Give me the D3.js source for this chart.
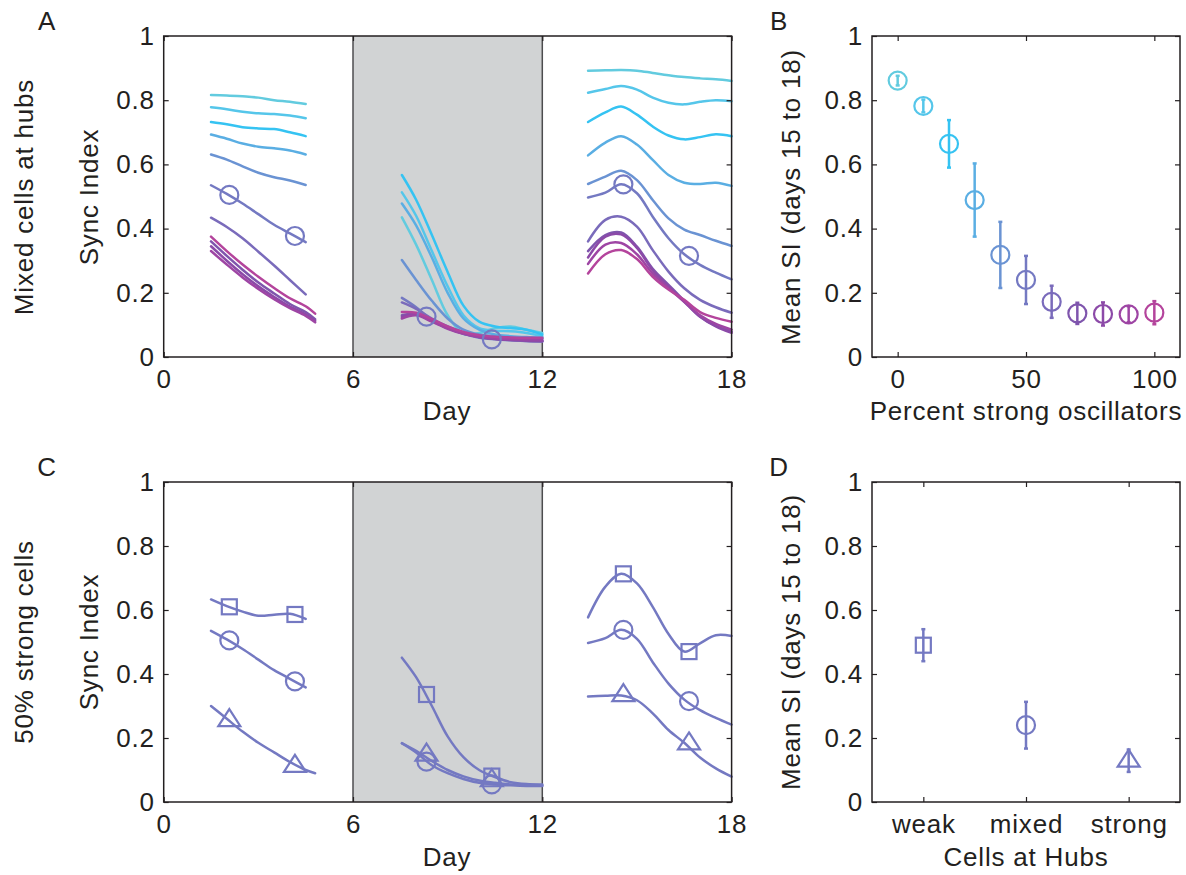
<!DOCTYPE html>
<html>
<head>
<meta charset="utf-8">
<script src="https://cdn.jsdelivr.net/npm/d3@7"></script>
<style>
  body { margin: 0; background: #fff; }
  text { font-family: "Liberation Sans", Arial, Helvetica, sans-serif; fill: #231f20; letter-spacing: 0.8px; }
</style>
</head>
<body>
<div id="fig"></div>
<script>
// ---- data ----
const pctStrong = [0, 10, 20, 30, 40, 50, 60, 70, 80, 90, 100];
const seriesColors = ["#62cbdf", "#55c6ea", "#35c3f2", "#5aaee3", "#6a93d3", "#7479c2",
                      "#7a6bbb", "#7f55ad", "#8c4aa8", "#9e45a4", "#b4449c"];

const seg1Days = [1.5, 2, 2.5, 3, 3.5, 4, 4.5, 4.8];
const seg2Days = [7.55, 8, 8.5, 9, 9.5, 10, 10.5, 11, 11.5, 12];
const seg3Days = [13.45, 14, 14.5, 15, 15.5, 16, 16.5, 17, 17.5, 18];

// sync index, one row per % strong oscillators
const syncSeg1 = [
  [0.816, 0.815, 0.812, 0.808, 0.800, 0.795, 0.788, null],
  [0.778, 0.772, 0.764, 0.759, 0.757, 0.752, 0.744, null],
  [0.732, 0.725, 0.716, 0.712, 0.710, 0.700, 0.688, null],
  [0.693, 0.680, 0.665, 0.655, 0.650, 0.643, 0.631, null],
  [0.631, 0.615, 0.594, 0.574, 0.560, 0.550, 0.536, null],
  [0.535, 0.508, 0.478, 0.445, 0.412, 0.385, 0.358, null],
  [0.434, 0.405, 0.370, 0.328, 0.285, 0.240, 0.195, null],
  [0.360, 0.315, 0.272, 0.232, 0.198, 0.165, 0.140, 0.118],
  [0.345, 0.300, 0.258, 0.220, 0.187, 0.157, 0.133, 0.113],
  [0.330, 0.288, 0.248, 0.212, 0.180, 0.152, 0.128, 0.108],
  [0.375, 0.330, 0.288, 0.250, 0.215, 0.183, 0.158, 0.135]
];
const syncSeg2 = [
  [0.435, 0.35, 0.24, 0.13, 0.072, 0.075, 0.09, 0.095, 0.085, 0.075],
  [0.513, 0.44, 0.33, 0.22, 0.13, 0.09, 0.082, 0.08, 0.075, 0.065],
  [0.567, 0.49, 0.38, 0.265, 0.16, 0.11, 0.095, 0.09, 0.085, 0.07],
  [0.478, 0.41, 0.31, 0.20, 0.12, 0.085, 0.07, 0.065, 0.062, 0.06],
  [0.302, 0.24, 0.175, 0.12, 0.085, 0.07, 0.065, 0.06, 0.06, 0.058],
  [0.184, 0.155, 0.115, 0.09, 0.072, 0.06, 0.055, 0.052, 0.05, 0.05],
  [0.17, 0.15, 0.12, 0.095, 0.075, 0.063, 0.057, 0.053, 0.05, 0.048],
  [0.13, 0.135, 0.115, 0.093, 0.075, 0.063, 0.057, 0.054, 0.052, 0.05],
  [0.125, 0.132, 0.112, 0.09, 0.073, 0.062, 0.056, 0.053, 0.051, 0.05],
  [0.12, 0.13, 0.11, 0.088, 0.072, 0.062, 0.058, 0.056, 0.055, 0.055],
  [0.14, 0.138, 0.118, 0.095, 0.078, 0.068, 0.063, 0.061, 0.06, 0.06]
];
const syncSeg3 = [
  [0.892, 0.893, 0.894, 0.892, 0.885, 0.878, 0.872, 0.868, 0.865, 0.86],
  [0.823, 0.835, 0.844, 0.833, 0.808, 0.792, 0.787, 0.795, 0.800, 0.797],
  [0.732, 0.762, 0.780, 0.755, 0.718, 0.690, 0.678, 0.685, 0.694, 0.688],
  [0.628, 0.668, 0.688, 0.662, 0.614, 0.567, 0.543, 0.539, 0.543, 0.533],
  [0.539, 0.562, 0.580, 0.551, 0.489, 0.432, 0.397, 0.380, 0.362, 0.346],
  [0.497, 0.512, 0.538, 0.510, 0.437, 0.370, 0.320, 0.287, 0.263, 0.242],
  [0.36, 0.427, 0.437, 0.406, 0.333, 0.266, 0.214, 0.178, 0.155, 0.138],
  [0.33, 0.38, 0.388, 0.344, 0.275, 0.225, 0.175, 0.126, 0.097, 0.079],
  [0.31, 0.375, 0.382, 0.34, 0.27, 0.22, 0.172, 0.125, 0.095, 0.075],
  [0.29, 0.35, 0.355, 0.32, 0.26, 0.215, 0.172, 0.13, 0.103, 0.085],
  [0.26, 0.32, 0.333, 0.305, 0.25, 0.21, 0.178, 0.14, 0.122, 0.11]
];

// panel C: 50% strong cells, placed weak / mixed / strong at hubs
const weakSeg1 = [0.633, 0.612, 0.595, 0.582, 0.585, 0.588, 0.572, null];
const weakSeg2 = [0.451, 0.39, 0.30, 0.205, 0.14, 0.10, 0.078, 0.062, 0.056, 0.055];
const weakSeg3 = [0.577, 0.673, 0.713, 0.683, 0.61, 0.525, 0.470, 0.496, 0.521, 0.519];
const strongSeg1 = [0.30, 0.26, 0.22, 0.185, 0.155, 0.125, 0.10, 0.09];
const strongSeg2 = [0.183, 0.16, 0.128, 0.10, 0.08, 0.067, 0.06, 0.055, 0.053, 0.052];
const strongSeg3 = [0.33, 0.332, 0.333, 0.318, 0.277, 0.225, 0.185, 0.139, 0.105, 0.079];

const markerDays = [2.08, 4.16, 8.33, 10.4, 14.57, 16.65];
const circleMarks = [0.505, 0.377, 0.126, 0.055, 0.538, 0.315];
const squareMarks = [0.610, 0.586, 0.336, 0.081, 0.713, 0.470];
const triangleMarks = [0.256, 0.113, 0.148, 0.068, 0.334, 0.183];

// panel B
const bMean = [0.861, 0.782, 0.664, 0.489, 0.318, 0.240, 0.172, 0.136, 0.134, 0.133, 0.138];
const bErr = [0.015, 0.02, 0.074, 0.114, 0.103, 0.075, 0.05, 0.033, 0.036, 0.025, 0.036];

// panel D
const dCats = ["weak", "mixed", "strong"];
const dShapes = ["square", "circle", "triangle"];
const dMean = [0.49, 0.240, 0.129];
const dErr = [0.05, 0.073, 0.035];

const yTicks = [0, 0.2, 0.4, 0.6, 0.8, 1];
const dayTicks = [0, 6, 12, 18];
const pctTicks = [0, 50, 100];

// ---- layout ----
const W = 1186, H = 875;
const FS = 26;
const cGroup = "#7479c2";
const svg = d3.select("#fig").append("svg").attr("width", W).attr("height", H);

const boxA = {l: 163.7, r: 731.6, t: 36, b: 357};
const boxB = {l: 872, r: 1180, t: 36, b: 357};
const boxC = {l: 163.7, r: 731.6, t: 482, b: 802};
const boxD = {l: 872, r: 1180, t: 482, b: 802};

function frame(box, x, y, xTickVals, xFmt) {
  const g = svg.append("g");
  // left axis with labels, other three sides ticks only
  g.append("g").attr("transform", `translate(${box.l},0)`)
    .call(d3.axisLeft(y).tickValues(yTicks).tickSizeInner(-5).tickSizeOuter(0).tickPadding(9).tickFormat(d3.format("~g")));
  g.append("g").attr("transform", `translate(${box.r},0)`)
    .call(d3.axisRight(y).tickValues(yTicks).tickSizeInner(-5).tickSizeOuter(0).tickFormat(""));
  g.append("g").attr("transform", `translate(0,${box.b})`)
    .call(d3.axisBottom(x).tickValues(xTickVals).tickSizeInner(-5).tickSizeOuter(0).tickPadding(13).tickFormat(xFmt));
  g.append("g").attr("transform", `translate(0,${box.t})`)
    .call(d3.axisTop(x).tickValues(xTickVals).tickSizeInner(-5).tickSizeOuter(0).tickFormat(""));
  g.selectAll(".domain").remove();
  g.selectAll(".tick line").attr("stroke", "#231f20").attr("stroke-width", 1.2);
  g.selectAll(".tick text").attr("font-size", FS).attr("fill", "#231f20")
    .attr("font-family", "'Liberation Sans', Arial, sans-serif");
  g.append("rect").attr("x", box.l).attr("y", box.t)
    .attr("width", box.r - box.l).attr("height", box.b - box.t)
    .attr("fill", "none").attr("stroke", "#231f20").attr("stroke-width", 1.5);
  return g;
}

function label(x, y, txt, rot, anchor) {
  const t = svg.append("text").attr("font-size", FS).attr("text-anchor", anchor || "middle").text(txt);
  if (rot) t.attr("transform", `translate(${x},${y}) rotate(-90)`);
  else t.attr("x", x).attr("y", y);
  return t;
}

function marker(g, shape, cx, cy, color) {
  if (shape === "circle") {
    g.append("circle").attr("cx", cx).attr("cy", cy).attr("r", 9)
      .attr("fill", "none").attr("stroke", color).attr("stroke-width", 2.2);
  } else if (shape === "square") {
    g.append("rect").attr("x", cx - 7.5).attr("y", cy - 7.5).attr("width", 15).attr("height", 15)
      .attr("fill", "none").attr("stroke", color).attr("stroke-width", 2.2);
  } else {
    g.append("path").attr("d", `M${cx},${cy - 11}L${cx + 11},${cy + 6}L${cx - 11},${cy + 6}Z`)
      .attr("fill", "none").attr("stroke", color).attr("stroke-width", 2.2);
  }
}

function timePanel(box) {
  const x = d3.scaleLinear().domain([0, 18]).range([box.l, box.r]);
  const y = d3.scaleLinear().domain([0, 1]).range([box.b, box.t]);
  const g = svg.append("g");
  g.append("rect").attr("x", x(6)).attr("y", box.t).attr("width", x(12) - x(6)).attr("height", box.b - box.t)
    .attr("fill", "#d1d3d4");
  [6, 12].forEach(d => g.append("line").attr("x1", x(d)).attr("x2", x(d)).attr("y1", box.t).attr("y2", box.b)
    .attr("stroke", "#4d4d4f").attr("stroke-width", 1.5));
  return {x, y, g};
}

const line = (x, y) => d3.line()
  .defined(d => d[1] != null)
  .x(d => x(d[0])).y(d => y(d[1]))
  .curve(d3.curveCatmullRom.alpha(0.5));

function drawSegs(g, x, y, segs, color) {
  const days = [seg1Days, seg2Days, seg3Days];
  segs.forEach((vals, k) => {
    g.append("path").datum(days[k].map((d, i) => [d, vals[i]]))
      .attr("d", line(x, y)).attr("fill", "none")
      .attr("stroke", color).attr("stroke-width", 2.5).attr("stroke-linecap", "round");
  });
}

// ---- Panel A ----
{
  const {x, y, g} = timePanel(boxA);
  pctStrong.forEach((p, i) => {
    drawSegs(g, x, y, [syncSeg1[i], syncSeg2[i], syncSeg3[i]], seriesColors[i]);
  });
  markerDays.forEach((d, i) => marker(g, "circle", x(d), y(circleMarks[i]), seriesColors[5]));
  frame(boxA, x, y, dayTicks, d3.format("d"));
  label(447, 420, "Day");
  label(98, 197, "Sync Index", true);
  label(33, 197, "Mixed cells at hubs", true);
  label(47, 30, "A");
}

// ---- Panel B ----
{
  const x = d3.scaleLinear().domain([-10, 110]).range([boxB.l, boxB.r]);
  const y = d3.scaleLinear().domain([0, 1]).range([boxB.b, boxB.t]);
  const g = svg.append("g");
  pctStrong.forEach((p, i) => {
    const c = seriesColors[i];
    g.append("line").attr("x1", x(p)).attr("x2", x(p))
      .attr("y1", y(bMean[i] - bErr[i])).attr("y2", y(bMean[i] + bErr[i]))
      .attr("stroke", c).attr("stroke-width", 2.5);
    [bMean[i] - bErr[i], bMean[i] + bErr[i]].forEach(v =>
      g.append("line").attr("x1", x(p) - 2).attr("x2", x(p) + 2).attr("y1", y(v)).attr("y2", y(v))
        .attr("stroke", c).attr("stroke-width", 2.5));
    marker(g, "circle", x(p), y(bMean[i]), c);
  });
  frame(boxB, x, y, pctTicks, d3.format("d"));
  label(1026, 420, "Percent strong oscillators");
  label(800, 197, "Mean SI (days 15 to 18)", true);
  label(779, 30, "B");
}

// ---- Panel C ----
{
  const {x, y, g} = timePanel(boxC);
  drawSegs(g, x, y, [weakSeg1, weakSeg2, weakSeg3], cGroup);
  drawSegs(g, x, y, [syncSeg1[5], syncSeg2[5], syncSeg3[5]], cGroup);
  drawSegs(g, x, y, [strongSeg1, strongSeg2, strongSeg3], cGroup);
  markerDays.forEach((d, i) => {
    marker(g, "square", x(d), y(squareMarks[i]), cGroup);
    marker(g, "circle", x(d), y(circleMarks[i]), cGroup);
    marker(g, "triangle", x(d), y(triangleMarks[i]), cGroup);
  });
  frame(boxC, x, y, dayTicks, d3.format("d"));
  label(447, 866, "Day");
  label(98, 642, "Sync Index", true);
  label(33, 642, "50% strong cells", true);
  label(47, 476, "C");
}

// ---- Panel D ----
{
  const x = d3.scaleLinear().domain([0.5, 3.5]).range([boxD.l, boxD.r]);
  const y = d3.scaleLinear().domain([0, 1]).range([boxD.b, boxD.t]);
  const g = svg.append("g");
  dCats.forEach((c, i) => {
    const px = x(i + 1);
    g.append("line").attr("x1", px).attr("x2", px)
      .attr("y1", y(dMean[i] - dErr[i])).attr("y2", y(dMean[i] + dErr[i]))
      .attr("stroke", cGroup).attr("stroke-width", 2.5);
    [dMean[i] - dErr[i], dMean[i] + dErr[i]].forEach(v =>
      g.append("line").attr("x1", px - 2).attr("x2", px + 2).attr("y1", y(v)).attr("y2", y(v))
        .attr("stroke", cGroup).attr("stroke-width", 2.5));
    marker(g, dShapes[i], px, y(dMean[i]), cGroup);
  });
  frame(boxD, x, y, [1, 2, 3], (d, i) => dCats[i]);
  label(1026, 866, "Cells at Hubs");
  label(800, 642, "Mean SI (days 15 to 18)", true);
  label(779, 476, "D");
}
</script>
</body>
</html>
